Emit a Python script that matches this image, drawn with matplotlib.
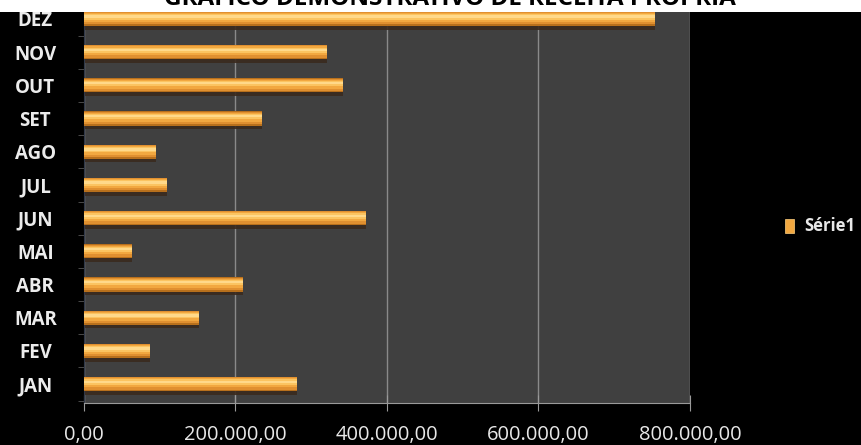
import numpy as np
import matplotlib.pyplot as plt
from matplotlib.ticker import FuncFormatter

months = ['JAN', 'FEV', 'MAR', 'ABR', 'MAI', 'JUN', 'JUL', 'AGO', 'SET', 'OUT', 'NOV', 'DEZ']
receita = [281000, 87000, 152000, 210000, 63000, 372000, 110000, 95000, 235000, 342000, 321000, 754000]
xticks = [0, 200000, 400000, 600000, 800000]
title = 'GRÁFICO DEMONSTRATIVO DE RECEITA PRÓPRIA'
series_name = 'Série1'

plt.rcParams['font.family'] = ['Open Sans', 'DejaVu Sans']

fig = plt.figure(figsize=(8.62, 4.45), dpi=100, facecolor='black')
# white strip at the top where the title sits
fig.patches.append(plt.Rectangle((0, 1 - 12 / 445), 1, 12 / 445, transform=fig.transFigure,
                                 facecolor='white', zorder=0))
fig.text(0.522, 1 - 5 / 445, title, ha='center', va='baseline', fontsize=17.5,
         fontweight='bold', color='black')

ax = fig.add_axes([84 / 862, 42 / 445, 606 / 862, 391 / 445])
ax.set_facecolor('#404040')

y = np.arange(len(months))
# shadow under bars
ax.barh(y - 0.13, receita, height=0.38, color='#3a2a1e', alpha=0.9, zorder=2, linewidth=0)
# cylinder look: stacked stripes, dark edges to light band
layers = [(0.43, 0.0, '#b8701c'), (0.37, 0.02, '#e09030'), (0.27, 0.04, '#f2a840'),
          (0.16, 0.06, '#fbc461'), (0.07, 0.07, '#ffd98a')]
for h, off, c in layers:
    ax.barh(y + off, receita, height=h, color=c, zorder=3, linewidth=0)

ax.set_xlim(0, 800000)
ax.set_ylim(-0.57, 11.21)
ax.set_xticks(xticks)
ax.xaxis.set_major_formatter(FuncFormatter(
    lambda v, p: f'{v:,.2f}'.replace(',', 'X').replace('.', ',').replace('X', '.')))
ax.set_yticks(y)
ax.set_yticklabels(months)
ax.grid(axis='x', color='#8a8a8a', linewidth=1, zorder=1)
ax.set_axisbelow(True)

ax.tick_params(axis='x', colors='#9a9a9a', labelcolor='#e8e8e8', labelsize=14.5,
               length=12, direction='inout', pad=10)
ax.tick_params(axis='y', length=0, labelcolor='#ececec', labelsize=13.5, pad=35)
for lbl in ax.get_yticklabels():
    lbl.set_fontweight('bold')
    lbl.set_horizontalalignment('center')
# small ticks between categories
ax.set_yticks(np.arange(-0.5, 11.5, 1), minor=True)
ax.tick_params(axis='y', which='minor', length=4, color='#555555')

for s in ['top', 'right']:
    ax.spines[s].set_visible(False)
ax.spines['left'].set_color('#303848')
ax.spines['bottom'].set_color('#9a9a9a')

# legend at the right edge
fig.patches.append(plt.Rectangle((785 / 862, 1 - 233 / 445), 9 / 862, 14 / 445,
                                 transform=fig.transFigure, facecolor='#f2a840',
                                 edgecolor='#ffd080', linewidth=0.5, zorder=3))
fig.text(804 / 862, 1 - 226 / 445, series_name, ha='left', va='center', fontsize=12,
         fontweight='bold', color='#e8e8e8')

fig.savefig('out.png', dpi=100, facecolor='black')
